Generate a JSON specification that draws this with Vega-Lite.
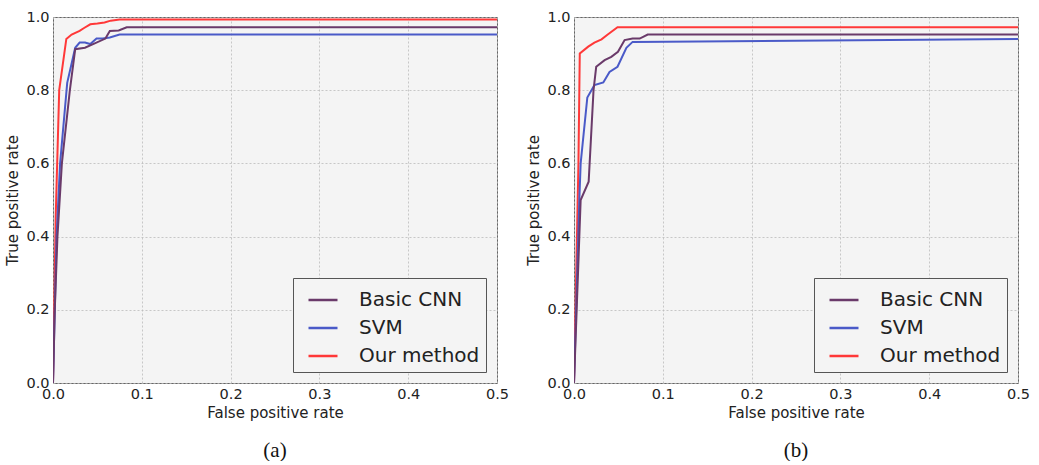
{
  "$schema": "https://vega.github.io/schema/vega-lite/v6.json",
  "padding": {"left": 5, "top": 8, "right": 0, "bottom": 0},
  "autosize": {"type": "pad"},
  "background": "white",
  "datasets": {
    "roc": [
      {"panel": "a", "method": "Our method", "i": 0, "fpr": 0, "tpr": 0},
      {"panel": "a", "method": "Our method", "i": 1, "fpr": 0.003, "tpr": 0.45},
      {"panel": "a", "method": "Our method", "i": 2, "fpr": 0.007, "tpr": 0.8},
      {"panel": "a", "method": "Our method", "i": 3, "fpr": 0.015, "tpr": 0.94},
      {"panel": "a", "method": "Our method", "i": 4, "fpr": 0.021, "tpr": 0.952},
      {"panel": "a", "method": "Our method", "i": 5, "fpr": 0.03, "tpr": 0.962},
      {"panel": "a", "method": "Our method", "i": 6, "fpr": 0.035, "tpr": 0.97},
      {"panel": "a", "method": "Our method", "i": 7, "fpr": 0.042, "tpr": 0.98},
      {"panel": "a", "method": "Our method", "i": 8, "fpr": 0.05, "tpr": 0.982},
      {"panel": "a", "method": "Our method", "i": 9, "fpr": 0.058, "tpr": 0.985},
      {"panel": "a", "method": "Our method", "i": 10, "fpr": 0.065, "tpr": 0.99},
      {"panel": "a", "method": "Our method", "i": 11, "fpr": 0.075, "tpr": 0.993},
      {"panel": "a", "method": "Our method", "i": 12, "fpr": 0.5, "tpr": 0.993},
      {"panel": "a", "method": "SVM", "i": 0, "fpr": 0, "tpr": 0},
      {"panel": "a", "method": "SVM", "i": 1, "fpr": 0.004, "tpr": 0.4},
      {"panel": "a", "method": "SVM", "i": 2, "fpr": 0.008, "tpr": 0.6},
      {"panel": "a", "method": "SVM", "i": 3, "fpr": 0.016, "tpr": 0.82},
      {"panel": "a", "method": "SVM", "i": 4, "fpr": 0.025, "tpr": 0.916},
      {"panel": "a", "method": "SVM", "i": 5, "fpr": 0.03, "tpr": 0.93},
      {"panel": "a", "method": "SVM", "i": 6, "fpr": 0.036, "tpr": 0.93},
      {"panel": "a", "method": "SVM", "i": 7, "fpr": 0.042, "tpr": 0.926},
      {"panel": "a", "method": "SVM", "i": 8, "fpr": 0.049, "tpr": 0.941},
      {"panel": "a", "method": "SVM", "i": 9, "fpr": 0.056, "tpr": 0.941},
      {"panel": "a", "method": "SVM", "i": 10, "fpr": 0.064, "tpr": 0.944},
      {"panel": "a", "method": "SVM", "i": 11, "fpr": 0.075, "tpr": 0.952},
      {"panel": "a", "method": "SVM", "i": 12, "fpr": 0.5, "tpr": 0.952},
      {"panel": "a", "method": "Basic CNN", "i": 0, "fpr": 0, "tpr": 0},
      {"panel": "a", "method": "Basic CNN", "i": 1, "fpr": 0.002, "tpr": 0.2},
      {"panel": "a", "method": "Basic CNN", "i": 2, "fpr": 0.005, "tpr": 0.4},
      {"panel": "a", "method": "Basic CNN", "i": 3, "fpr": 0.01, "tpr": 0.6},
      {"panel": "a", "method": "Basic CNN", "i": 4, "fpr": 0.019, "tpr": 0.8},
      {"panel": "a", "method": "Basic CNN", "i": 5, "fpr": 0.025, "tpr": 0.912},
      {"panel": "a", "method": "Basic CNN", "i": 6, "fpr": 0.036, "tpr": 0.916},
      {"panel": "a", "method": "Basic CNN", "i": 7, "fpr": 0.047, "tpr": 0.928},
      {"panel": "a", "method": "Basic CNN", "i": 8, "fpr": 0.059, "tpr": 0.941},
      {"panel": "a", "method": "Basic CNN", "i": 9, "fpr": 0.064, "tpr": 0.962},
      {"panel": "a", "method": "Basic CNN", "i": 10, "fpr": 0.074, "tpr": 0.963},
      {"panel": "a", "method": "Basic CNN", "i": 11, "fpr": 0.083, "tpr": 0.972},
      {"panel": "a", "method": "Basic CNN", "i": 12, "fpr": 0.5, "tpr": 0.972},
      {"panel": "b", "method": "Our method", "i": 0, "fpr": 0, "tpr": 0},
      {"panel": "b", "method": "Our method", "i": 1, "fpr": 0.005, "tpr": 0.6},
      {"panel": "b", "method": "Our method", "i": 2, "fpr": 0.0065, "tpr": 0.9},
      {"panel": "b", "method": "Our method", "i": 3, "fpr": 0.016, "tpr": 0.919},
      {"panel": "b", "method": "Our method", "i": 4, "fpr": 0.023, "tpr": 0.93},
      {"panel": "b", "method": "Our method", "i": 5, "fpr": 0.031, "tpr": 0.939},
      {"panel": "b", "method": "Our method", "i": 6, "fpr": 0.038, "tpr": 0.952},
      {"panel": "b", "method": "Our method", "i": 7, "fpr": 0.049, "tpr": 0.972},
      {"panel": "b", "method": "Our method", "i": 8, "fpr": 0.5, "tpr": 0.972},
      {"panel": "b", "method": "SVM", "i": 0, "fpr": 0, "tpr": 0},
      {"panel": "b", "method": "SVM", "i": 1, "fpr": 0.006, "tpr": 0.5},
      {"panel": "b", "method": "SVM", "i": 2, "fpr": 0.0075, "tpr": 0.6},
      {"panel": "b", "method": "SVM", "i": 3, "fpr": 0.015, "tpr": 0.78},
      {"panel": "b", "method": "SVM", "i": 4, "fpr": 0.023, "tpr": 0.814},
      {"panel": "b", "method": "SVM", "i": 5, "fpr": 0.033, "tpr": 0.821},
      {"panel": "b", "method": "SVM", "i": 6, "fpr": 0.04, "tpr": 0.85},
      {"panel": "b", "method": "SVM", "i": 7, "fpr": 0.049, "tpr": 0.864},
      {"panel": "b", "method": "SVM", "i": 8, "fpr": 0.059, "tpr": 0.916},
      {"panel": "b", "method": "SVM", "i": 9, "fpr": 0.066, "tpr": 0.932},
      {"panel": "b", "method": "SVM", "i": 10, "fpr": 0.5, "tpr": 0.94},
      {"panel": "b", "method": "Basic CNN", "i": 0, "fpr": 0, "tpr": 0},
      {"panel": "b", "method": "Basic CNN", "i": 1, "fpr": 0.0075, "tpr": 0.5},
      {"panel": "b", "method": "Basic CNN", "i": 2, "fpr": 0.0165, "tpr": 0.55},
      {"panel": "b", "method": "Basic CNN", "i": 3, "fpr": 0.022, "tpr": 0.8},
      {"panel": "b", "method": "Basic CNN", "i": 4, "fpr": 0.025, "tpr": 0.864},
      {"panel": "b", "method": "Basic CNN", "i": 5, "fpr": 0.0345, "tpr": 0.882},
      {"panel": "b", "method": "Basic CNN", "i": 6, "fpr": 0.042, "tpr": 0.891},
      {"panel": "b", "method": "Basic CNN", "i": 7, "fpr": 0.0495, "tpr": 0.905},
      {"panel": "b", "method": "Basic CNN", "i": 8, "fpr": 0.057, "tpr": 0.937},
      {"panel": "b", "method": "Basic CNN", "i": 9, "fpr": 0.066, "tpr": 0.941},
      {"panel": "b", "method": "Basic CNN", "i": 10, "fpr": 0.074, "tpr": 0.941},
      {"panel": "b", "method": "Basic CNN", "i": 11, "fpr": 0.083, "tpr": 0.952},
      {"panel": "b", "method": "Basic CNN", "i": 12, "fpr": 0.5, "tpr": 0.952}
    ]
  },
  "data": {"name": "roc"},
  "spacing": 16,
  "resolve": {"scale": {"color": "independent"}, "legend": {"color": "independent"}},
  "hconcat": [
    {
      "width": 444,
      "height": 366,
      "title": {"text": "(a)", "orient": "bottom", "anchor": "middle", "font": "Liberation Serif", "fontSize": 21, "fontWeight": "normal", "color": "#111", "offset": 19},
      "transform": [{"filter": "datum.panel == 'a'"}],
      "mark": {"type": "line", "strokeWidth": 2, "clip": true},
      "encoding": {
        "x": {"field": "fpr", "type": "quantitative", "scale": {"domain": [0, 0.5], "nice": false, "zero": true}, "axis": {"title": "False positive rate", "values": [0, 0.1, 0.2, 0.3, 0.4, 0.5], "format": ".1f"}},
        "y": {"field": "tpr", "type": "quantitative", "scale": {"domain": [0, 1], "nice": false}, "axis": {"title": "True positive rate", "values": [0, 0.2, 0.4, 0.6, 0.8, 1.0], "format": ".1f"}},
        "color": {"field": "method", "type": "nominal", "scale": {"domain": ["Basic CNN", "SVM", "Our method"], "range": ["#6a3a6a", "#4a5ac8", "#ff3838"]}, "legend": {"title": null, "orient": "bottom-right", "offset": 11}},
        "order": {"field": "i", "type": "quantitative"}
      }
    },
    {
      "width": 444,
      "height": 366,
      "title": {"text": "(b)", "orient": "bottom", "anchor": "middle", "font": "Liberation Serif", "fontSize": 21, "fontWeight": "normal", "color": "#111", "offset": 19},
      "transform": [{"filter": "datum.panel == 'b'"}],
      "mark": {"type": "line", "strokeWidth": 2, "clip": true},
      "encoding": {
        "x": {"field": "fpr", "type": "quantitative", "scale": {"domain": [0, 0.5], "nice": false, "zero": true}, "axis": {"title": "False positive rate", "values": [0, 0.1, 0.2, 0.3, 0.4, 0.5], "format": ".1f"}},
        "y": {"field": "tpr", "type": "quantitative", "scale": {"domain": [0, 1], "nice": false}, "axis": {"title": "True positive rate", "values": [0, 0.2, 0.4, 0.6, 0.8, 1.0], "format": ".1f"}},
        "color": {"field": "method", "type": "nominal", "scale": {"domain": ["Basic CNN", "SVM", "Our method"], "range": ["#6a3a6a", "#4a5ac8", "#ff3838"]}, "legend": {"title": null, "orient": "bottom-right", "offset": 11}},
        "order": {"field": "i", "type": "quantitative"}
      }
    }
  ],
  "config": {
    "font": "DejaVu Sans",
    "view": {"fill": "#f4f4f4", "stroke": "#666", "strokeWidth": 1},
    "axis": {
      "labelFont": "DejaVu Sans", "labelFontSize": 14.5, "labelColor": "#222",
      "titleFont": "DejaVu Sans", "titleFontSize": 15, "titleFontWeight": "normal", "titleColor": "#222",
      "grid": true, "gridColor": "#bbbbbb", "gridDash": [2, 2], "gridWidth": 0.8,
      "domain": false, "ticks": false, "labelPadding": 4, "titlePadding": 5
    },
    "axisX": {"labelFlush": false},
    "axisY": {"labelFlush": false},
    "legend": {
      "labelFont": "DejaVu Sans", "labelFontSize": 20, "labelColor": "#222",
      "symbolType": "stroke", "symbolSize": 841, "symbolStrokeWidth": 2.5,
      "labelOffset": 20, "rowPadding": 2, "padding": 6, "symbolOffset": 8,
      "strokeColor": "#555", "fillColor": "#f4f4f4", "cornerRadius": 0
    }
  }
}
